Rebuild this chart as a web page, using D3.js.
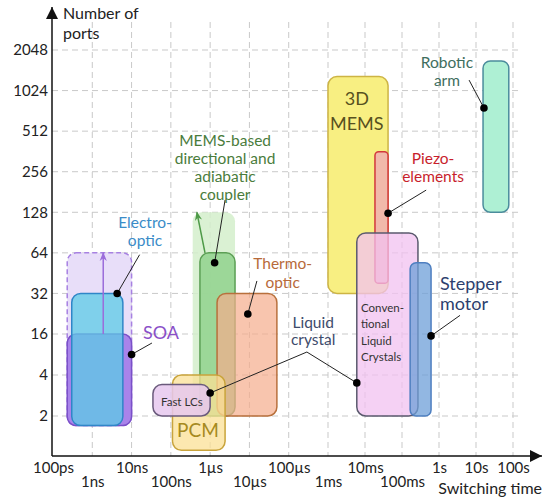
<!DOCTYPE html>
<html>
<head>
<meta charset="utf-8">
<script src="https://cdn.jsdelivr.net/npm/d3@7"></script>
<style>
  html, body { margin: 0; padding: 0; background: #fff; }
  svg { display: block; font-family: Lato, "Open Sans", sans-serif; }
</style>
</head>
<body>
<svg id="chart" width="546" height="497"></svg>
<script>
// ---- data ----
const xTickExp = [-10, -9, -8, -7, -6, -5, -4, -3, -2, -1, 0, 1, 2];
const xTickLabels = ["100ps", "1ns", "10ns", "100ns", "1µs", "10µs", "100µs", "1ms", "10ms", "100ms", "1s", "10s", "100s"];
const xLowerRow = ["1ns", "100ns", "10µs", "1ms", "100ms"];
const yTickPorts = [2, 4, 16, 32, 64, 128, 256, 512, 1024, 2048];

// switching time (s) and number of ports for each region
const boxNames = ["SOA range", "MEMS coupler range", "SOA", "Electro-optic", "MEMS coupler",
  "Thermo-optic", "PCM", "Fast LCs", "3D MEMS", "Piezo-elements", "Conventional LC",
  "Stepper motor", "Robotic arm"];
const tMin = [2.3e-10, 3.6e-7, 2.3e-10, 3e-10, 5.5e-7, 1.5e-6, 1.1e-7, 3.5e-8, 1e-3, 0.0186, 6e-3, 0.166, 15.5];
const tMax = [1e-8, 4.3e-6, 1e-8, 6e-9, 4.3e-6, 5e-5, 2.4e-6, 1e-6, 0.042, 0.042, 0.27, 0.61, 77];
const pMin = [1.7, 2, 1.7, 1.7, 2, 2, 1.12, 2, 32, 38, 2, 2, 128];
const pMax = [64, 128, 16, 32, 64, 32, 4, 3.4, 1300, 360, 90, 54, 1700];

// growth arrows [from, to] as [time, ports]
const arrowPaths = [
  [[1.9e-9, 16], [1.9e-9, 64]],
  [[7.4e-7, 64], [4.6e-7, 128]]
];

// leader lines, first point carries the dot
const leaderPaths = [
  [[4.3e-9, 32], [1.6e-8, 62]],
  [[1e-8, 8], [3.3e-8, 11.8]],
  [[1.3e-6, 54], [2.4e-6, 158]],
  [[9.1e-6, 22.5], [1.55e-5, 39.6]],
  [[1e-6, 2.95], [2.9e-4, 8.7], [6e-3, 3.5]],
  [[0.042, 126], [0.45, 187]],
  [[0.61, 15], [3.7, 22]],
  [[16.4, 760], [6.5, 1225]]
];
const extraDots = [[6e-3, 3.5]];

const labelLines = [["Electro-", "optic"], ["SOA"], ["MEMS-based", "directional and", "adiabatic", "coupler"],
  ["Thermo-", "optic"], ["Liquid", "crystal"], ["Fast LCs"], ["PCM"], ["3D", "MEMS"],
  ["Piezo-", "elements"], ["Conven-", "tional", "Liquid", "Crystals"], ["Stepper", "motor"], ["Robotic", "arm"]];
const labelT = [2.2e-8, 5.6e-8, 2.4e-6, 7e-5, 4.2e-4, 1.9e-7, 4.9e-7, 6e-3, 0.69, 7.8e-3, 1.06, 1.64];
const labelP = [107, 16.3, 433, 53, 19.3, 2.53, 1.58, 885, 318, 25, 38, 1665];

// ---- styles ----
const boxStyle = {
  "SOA range": { fill: "#e8def9", opacity: 1, stroke: "#a781e2", dash: "5,3" },
  "MEMS coupler range": { fill: "#d3efcb", opacity: 0.85, stroke: "none" },
  "SOA": { fill: "#a983ea", opacity: 1, stroke: "#7a50c8" },
  "Electro-optic": { fill: "#5ccbe6", opacity: 0.75, stroke: "#2f86c8" },
  "MEMS coupler": { fill: "#95d491", opacity: 0.9, stroke: "#5c9f55" },
  "Thermo-optic": { fill: "#f5ad8c", opacity: 0.7, stroke: "#b8703c" },
  "PCM": { fill: "#fbe096", opacity: 0.75, stroke: "#c9a43c" },
  "Fast LCs": { fill: "#e6c8ee", opacity: 0.85, stroke: "#6a5a7c" },
  "3D MEMS": { fill: "#f8ef82", opacity: 1, stroke: "#cdb444" },
  "Piezo-elements": { fill: "#f0b2ae", opacity: 0.9, stroke: "#d2383c" },
  "Conventional LC": { fill: "#f2c2f0", opacity: 0.75, stroke: "#5b5a6e" },
  "Stepper motor": { fill: "#6d9fd8", opacity: 0.75, stroke: "#4e7fc0" },
  "Robotic arm": { fill: "#aef0d4", opacity: 1, stroke: "#4b8c9c" }
};
const arrowColors = ["#9b6cdb", "#4e9a48"];
const labelSize = [15.5, 18, 15.5, 15.5, 15.5, 11.5, 19, 18, 15.5, 11.5, 18, 15.5];
const labelLH = [18, 0, 18, 19, 17, 0, 0, 25, 18, 16.5, 20, 18];
const labelColor = ["#3a8cc8", "#8a50c8", "#4a7c3c", "#b76a3a", "#3d4b6b", "#333", "#a68a20",
  "#575020", "#c81e2c", "#333", "#2d3f6e", "#3e6e5e"];
const labelAnchor = ["middle", "middle", "middle", "middle", "middle", "middle", "middle",
  "middle", "middle", "start", "start", "middle"];

// ---- scales ----
const width = 546, height = 497;
const axisX = 52, axisY = 456;
const x = d3.scaleLinear().domain([-10, -3, 2]).range([53, 328, 513]);
const y = d3.scaleLinear().domain([1, 2, 4, 11]).range([416, 375, 334, 50]);
const xs = (t) => x(Math.log10(t));
const ys = (p) => y(Math.log2(p));

const svg = d3.select("#chart");

const defs = svg.append("defs");
arrowColors.forEach((c, i) => {
  defs.append("marker")
    .attr("id", "arr" + i)
    .attr("viewBox", "0 0 10 10")
    .attr("refX", 9).attr("refY", 5)
    .attr("markerWidth", 9).attr("markerHeight", 9)
    .attr("markerUnits", "userSpaceOnUse")
    .attr("orient", "auto")
    .append("path")
    .attr("d", "M0,1 L10,5 L0,9 L3,5 Z")
    .attr("fill", c);
});
defs.append("marker")
  .attr("id", "axisArrow")
  .attr("viewBox", "0 0 10 10")
  .attr("refX", 10).attr("refY", 5)
  .attr("markerWidth", 12).attr("markerHeight", 12)
  .attr("markerUnits", "userSpaceOnUse")
  .attr("orient", "auto")
  .append("path")
  .attr("d", "M0,0 L10,5 L0,10 Z")
  .attr("fill", "#111");

// grid
const grid = svg.append("g").attr("stroke", "#c9c9c9").attr("stroke-dasharray", "6,4").attr("stroke-width", 1);
grid.selectAll(".h")
  .data(yTickPorts)
  .join("line")
  .attr("x1", axisX).attr("x2", 522)
  .attr("y1", (d) => ys(d)).attr("y2", (d) => ys(d));
grid.selectAll(".v")
  .data(xTickExp.slice(1))
  .join("line")
  .attr("x1", (d) => x(d)).attr("x2", (d) => x(d))
  .attr("y1", 22).attr("y2", axisY);

// boxes
svg.append("g")
  .selectAll("rect")
  .data(boxNames)
  .join("rect")
  .attr("x", (d, i) => xs(tMin[i]))
  .attr("y", (d, i) => ys(pMax[i]))
  .attr("width", (d, i) => xs(tMax[i]) - xs(tMin[i]))
  .attr("height", (d, i) => ys(pMin[i]) - ys(pMax[i]))
  .attr("rx", (d, i) => Math.min(9, (xs(tMax[i]) - xs(tMin[i])) / 3.5))
  .attr("fill", (d) => boxStyle[d].fill)
  .attr("fill-opacity", (d) => boxStyle[d].opacity)
  .attr("stroke", (d) => boxStyle[d].stroke)
  .attr("stroke-dasharray", (d) => boxStyle[d].dash || null)
  .attr("stroke-width", 1.5);

// growth arrows
svg.append("g")
  .selectAll("line")
  .data(arrowPaths)
  .join("line")
  .attr("x1", (d) => xs(d[0][0])).attr("y1", (d) => ys(d[0][1]))
  .attr("x2", (d) => xs(d[1][0])).attr("y2", (d) => ys(d[1][1]))
  .attr("stroke", (d, i) => arrowColors[i])
  .attr("stroke-width", 1.5)
  .attr("marker-end", (d, i) => `url(#arr${i})`);

// leaders and dots
const line = d3.line().x((d) => xs(d[0])).y((d) => ys(d[1]));
svg.append("g")
  .selectAll("path")
  .data(leaderPaths)
  .join("path")
  .attr("d", line)
  .attr("fill", "none")
  .attr("stroke", "#222")
  .attr("stroke-width", 1);
svg.append("g")
  .selectAll("circle")
  .data(leaderPaths.map((d) => d[0]).concat(extraDots))
  .join("circle")
  .attr("cx", (d) => xs(d[0]))
  .attr("cy", (d) => ys(d[1]))
  .attr("r", 3.8)
  .attr("fill", "#000");

// labels
const labels = svg.append("g")
  .selectAll("text")
  .data(labelLines)
  .join("text")
  .attr("x", (d, i) => xs(labelT[i]))
  .attr("y", (d, i) => ys(labelP[i]))
  .attr("font-size", (d, i) => labelSize[i])
  .attr("fill", (d, i) => labelColor[i])
  .attr("text-anchor", (d, i) => labelAnchor[i]);
labels.each(function (lines, i) {
  const t = d3.select(this);
  lines.forEach((s, j) => {
    t.append("tspan")
      .attr("x", xs(labelT[i]))
      .attr("dy", j === 0 ? "0.35em" : labelLH[i])
      .text(s);
  });
});

// axes
svg.append("line")
  .attr("x1", axisX).attr("y1", axisY).attr("x2", axisX).attr("y2", 7)
  .attr("stroke", "#111").attr("stroke-width", 1.5)
  .attr("marker-end", "url(#axisArrow)");
svg.append("line")
  .attr("x1", axisX).attr("y1", axisY).attr("x2", 542).attr("y2", axisY)
  .attr("stroke", "#111").attr("stroke-width", 1.5)
  .attr("marker-end", "url(#axisArrow)");

const yAxis = svg.append("g")
  .attr("transform", `translate(${axisX},0)`)
  .call(d3.axisLeft(y).tickValues(yTickPorts.map(Math.log2)).tickFormat((d) => String(Math.pow(2, d))).tickSize(0).tickPadding(4));
yAxis.select(".domain").remove();
yAxis.selectAll("text").attr("font-size", 15).attr("fill", "#222").attr("font-family", "Lato, sans-serif");

const xAxis = svg.append("g")
  .attr("transform", `translate(0,${axisY})`)
  .call(d3.axisBottom(x).tickValues(xTickExp).tickFormat((d, i) => xTickLabels[i]).tickSize(0).tickPadding(0));
xAxis.select(".domain").remove();
xAxis.selectAll("text")
  .attr("font-size", 15).attr("fill", "#222").attr("font-family", "Lato, sans-serif")
  .attr("dy", null)
  .attr("y", (d, i) => (xLowerRow.includes(xTickLabels[i]) ? 31 : 17));

svg.append("text")
  .attr("x", 63).attr("y", 19)
  .attr("font-size", 16).attr("fill", "#222")
  .text("Number of");
svg.append("text")
  .attr("x", 63).attr("y", 39)
  .attr("font-size", 16).attr("fill", "#222")
  .text("ports");
svg.append("text")
  .attr("x", width - 4).attr("y", 494)
  .attr("text-anchor", "end")
  .attr("font-size", 16).attr("fill", "#222")
  .text("Switching time");
</script>
</body>
</html>
